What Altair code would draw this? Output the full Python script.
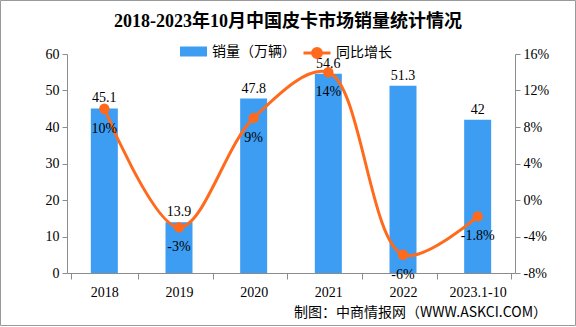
import altair as alt
import pandas as pd

years = ["2018", "2019", "2020", "2021", "2022", "2023.1-10"]
sales = [45.1, 13.9, 47.8, 54.6, 51.3, 42]
growth = [10, -3, 9, 14, -6, -1.8]
sales_labels = ["45.1", "13.9", "47.8", "54.6", "51.3", "42"]
growth_labels = ["10%", "-3%", "9%", "14%", "-6%", "-1.8%"]
bar_name = "销量（万辆）"
line_name = "同比增长"
title_text = "2018-2023年10月中国皮卡市场销量统计情况"
source_text = "制图：中商情报网（WWW.ASKCI.COM）"

BLUE = "#3d9df2"
ORANGE = "#ff6a1c"
GRAY = "#8c8c8c"
FONT = "Liberation Serif, Noto Sans CJK SC"
CJK = "Noto Sans CJK SC"

df = pd.DataFrame({
    "year": years, "sales": sales, "growth": growth,
    "slab": sales_labels, "glab": growth_labels,
    "bs": [bar_name] * 6, "ls": [line_name] * 6,
})

W, H = 448, 219
base = alt.Chart(df)
x_axis = alt.Axis(labelAngle=0, tickBand="extent", domainColor=GRAY, tickColor=GRAY,
                  tickSize=6, labelFont=FONT, labelFontSize=14, labelColor="#000",
                  labelPadding=6)
x = alt.X("year:N", sort=years, title=None, axis=x_axis)

yl_scale = alt.Scale(domain=[0, 60], nice=False)
yl_axis = alt.Axis(values=[0, 10, 20, 30, 40, 50, 60], grid=False, domainColor=GRAY,
                   tickColor=GRAY, tickSize=5, labelFont=FONT, labelFontSize=14,
                   labelColor="#000", labelPadding=3, labelOverlap=False)
yl = alt.Y("sales:Q", scale=yl_scale, title=None, axis=yl_axis)

bars = base.mark_bar(size=27, color=BLUE).encode(
    x=x, y=yl,
    color=alt.Color("bs:N", scale=alt.Scale(domain=[bar_name], range=[BLUE]),
                    legend=alt.Legend(title=None, orient="none", legendX=113, legendY=-16,
                                      symbolType="M-1,-0.37H1V0.37H-1Z", symbolSize=729,
                                      symbolStrokeWidth=0, labelFont=CJK, labelFontSize=14,
                                      labelColor="#000", labelOffset=5)))
bar_text = base.mark_text(dy=-10, font=FONT, fontSize=14, color="#000").encode(
    x=x, y=yl, text="slab:N")
left = alt.layer(bars, bar_text)

yr_scale = alt.Scale(domain=[-8, 16], nice=False)
yr_axis = alt.Axis(orient="right", values=[-8, -4, 0, 4, 8, 12, 16], grid=False,
                   domainColor=GRAY, tickColor=GRAY, tickSize=5, labelFont=FONT,
                   labelFontSize=14, labelColor="#000", labelPadding=3,
                   labelOverlap=False, labelExpr="datum.value + '%'")
yr = alt.Y("growth:Q", scale=yr_scale, title=None, axis=yr_axis)
line = base.mark_line(interpolate="catmull-rom", strokeWidth=3,
                      point=alt.OverlayMarkDef(filled=True, size=70, color=ORANGE)).encode(
    x=x, y=yr,
    stroke=alt.Stroke("ls:N", scale=alt.Scale(domain=[line_name], range=[ORANGE]),
                      legend=alt.Legend(title=None, orient="none", legendX=235, legendY=-16,
                                        symbolType="M-1,0H1M0.33,0A0.33,0.33,0,1,1,-0.33,0A0.33,0.33,0,1,1,0.33,0Z",
                                        symbolSize=729, symbolStrokeWidth=3,
                                        symbolFillColor=ORANGE, symbolStrokeColor=ORANGE,
                                        labelFont=CJK, labelFontSize=14, labelColor="#000",
                                        labelOffset=4)))
line_text = base.mark_text(dy=20, font=FONT, fontSize=14, color="#000").encode(
    x=x, y=yr, text="glab:N")
right = alt.layer(line, line_text)

ttl = alt.Chart(pd.DataFrame({"t": [title_text]})).mark_text(
    align="center", baseline="middle", font=FONT, fontSize=18, fontWeight="bold",
    color="#000").encode(text="t:N", x=alt.value(221), y=alt.value(-32))
src = alt.Chart(pd.DataFrame({"t": [source_text]})).mark_text(
    align="right", baseline="middle", font=CJK, fontSize=14, color="#000").encode(
    text="t:N", x=alt.value(480), y=alt.value(259))
frame = alt.Chart(pd.DataFrame({"t": [1]})).mark_rect(
    fill=None, stroke="#999999", strokeWidth=1).encode(
    x=alt.value(-66.5), x2=alt.value(W + 60.5), y=alt.value(-53.5), y2=alt.value(H + 52.5))

chart = alt.layer(left, right, ttl, src, frame).resolve_scale(
    y="independent", color="independent", stroke="independent"
).properties(
    width=W, height=H,
    autosize=alt.AutoSizeParams(type="none"),
    padding={"left": 67, "top": 54, "right": 61, "bottom": 54},
    background="white",
).configure_view(stroke=None)

chart.save("out.html", embed_options={"renderer": "svg", "actions": False})
